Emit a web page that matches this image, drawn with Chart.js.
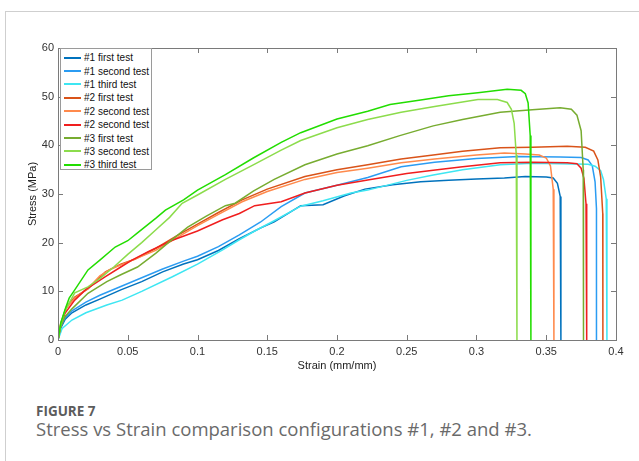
<!DOCTYPE html>
<html>
<head>
<meta charset="utf-8">
<script src="https://cdn.jsdelivr.net/npm/chart.js@4.4.1/dist/chart.umd.min.js"></script>
<style>
  html,body{margin:0;padding:0;background:#fff;}
  body{width:639px;height:461px;overflow:hidden;position:relative;font-family:"Liberation Sans",Arial,sans-serif;}
  #frame{position:absolute;left:5px;top:11px;width:700px;height:500px;border-left:1px solid #cfcfcf;border-top:1px solid #cfcfcf;}
  #c{position:absolute;left:0;top:0;}
  #lg{position:absolute;left:60px;top:48px;width:92px;height:122px;border:1px solid #9a9a9a;background:#fff;box-sizing:border-box;padding-top:2px;}
  #lg .row{height:13.4px;display:flex;align-items:center;font-size:10px;color:#111;white-space:nowrap;}
  #lg .sw{width:17px;height:2px;margin:0 3px 0 3px;}
  #fig{position:absolute;left:36px;top:402px;font-family:"Open Sans",sans-serif;font-weight:700;font-size:13.5px;color:#5c5c5c;}
  #cap{position:absolute;left:36px;top:416px;font-family:"Open Sans",sans-serif;font-size:18.5px;color:#6a6a6a;white-space:nowrap;}
</style>
</head>
<body>
<div id="frame"></div>
<canvas id="c" width="639" height="373"></canvas>
<div id="lg"></div>
<div id="fig">FIGURE 7</div>
<div id="cap">Stress vs Strain comparison configurations #1, #2 and #3.</div>
<script>
// ── Stress/strain data ──
const X_TICKS=[0,0.05,0.1,0.15,0.2,0.25,0.3,0.35,0.4];
const Y_TICKS=[0,10,20,30,40,50,60];

const T1A_X=[0,0.002,0.005,0.01,0.02,0.03,0.045,0.06,0.075,0.09,0.1,0.115,0.13,0.145,0.155,0.165,0.174,0.19,0.205,0.22,0.24,0.26,0.28,0.30,0.32,0.335,0.35,0.355,0.358,0.36,0.3605,0.3605];
const T1A_Y=[0,2.5,4.2,5.6,7.2,8.4,10.3,12.0,14.0,15.6,16.5,18.4,20.8,23.0,24.3,26.0,27.6,27.8,29.6,31.0,31.9,32.5,32.8,33.1,33.3,33.6,33.5,33.3,32.2,29.5,24,0];

const T1B_X=[0,0.002,0.005,0.01,0.02,0.03,0.045,0.06,0.075,0.09,0.1,0.115,0.13,0.145,0.16,0.177,0.2,0.222,0.246,0.27,0.3,0.33,0.36,0.375,0.38,0.383,0.385,0.386,0.386];
const T1B_Y=[0,2.8,4.6,6.0,7.8,9.2,11.0,12.8,14.6,16.2,17.2,19.2,21.6,24.2,27.4,30.2,31.8,33.4,35.6,36.5,37.3,37.7,37.6,37.5,37.0,35.8,32.5,27,0];

const T1C_X=[0,0.003,0.01,0.02,0.035,0.046,0.06,0.082,0.1,0.118,0.13,0.141,0.155,0.174,0.19,0.21,0.222,0.25,0.269,0.29,0.317,0.34,0.36,0.38,0.385,0.389,0.391,0.393,0.3935,0.3935];
const T1C_Y=[0,2.4,4.1,5.6,7.2,8.2,10.0,13.0,15.6,18.5,20.6,22.4,24.5,27.5,28.6,30.2,30.8,32.8,33.9,35.0,36.0,36.3,36.2,36.1,35.7,34.8,33.0,29,24,0];

const T2A_X=[0,0.002,0.006,0.012,0.0215,0.034,0.045,0.055,0.07,0.085,0.1,0.115,0.132,0.15,0.177,0.2,0.222,0.246,0.269,0.29,0.317,0.34,0.365,0.378,0.384,0.387,0.389,0.3905,0.3906];
const T2A_Y=[0,3.5,6.8,8.8,10.5,14.0,15.6,16.6,18.8,21.4,23.8,26.2,28.8,31.0,33.6,35.0,36.0,37.2,38.0,38.8,39.5,39.6,39.8,39.6,38.8,37.0,33.5,26,0];

const T2B_X=[0,0.002,0.006,0.012,0.0215,0.03,0.038,0.05,0.07,0.085,0.1,0.115,0.132,0.15,0.177,0.2,0.222,0.246,0.27,0.3,0.32,0.335,0.345,0.35,0.353,0.355,0.3555];
const T2B_Y=[0,3.2,6.5,8.6,10.6,13.2,14.6,16.0,18.4,21.0,23.5,25.8,28.4,30.5,33.0,34.4,35.3,36.4,37.2,38.0,38.4,38.2,38.0,37.4,35.8,31,0];

const T2C_X=[0,0.002,0.005,0.012,0.02,0.034,0.045,0.053,0.065,0.082,0.1,0.118,0.13,0.141,0.16,0.177,0.2,0.222,0.25,0.269,0.29,0.317,0.34,0.365,0.372,0.375,0.377,0.3785,0.379];
const T2C_Y=[0,3.0,5.5,8.2,10.4,13.0,15.0,16.4,18.2,20.5,22.4,24.7,26.0,27.6,28.4,30.2,31.8,32.9,34.2,34.9,35.6,36.4,36.5,36.4,36.2,35.3,33.2,28,0];

const T3A_X=[0,0.002,0.005,0.01,0.0215,0.035,0.045,0.057,0.07,0.08,0.093,0.106,0.12,0.127,0.14,0.155,0.177,0.2,0.222,0.245,0.269,0.29,0.317,0.34,0.36,0.368,0.372,0.375,0.3765,0.3767];
const T3A_Y=[0,2.8,4.8,6.4,9.6,12.0,13.4,15.0,17.8,20.2,23.2,25.4,27.6,28.1,30.6,33.0,36.0,38.2,39.9,42.0,44.0,45.3,46.8,47.3,47.7,47.4,46.2,43,35,0];

const T3B_X=[0,0.002,0.005,0.012,0.0215,0.03,0.04,0.05,0.06,0.07,0.08,0.089,0.1,0.12,0.14,0.16,0.174,0.2,0.222,0.246,0.27,0.301,0.315,0.322,0.325,0.327,0.3285,0.329];
const T3B_Y=[0,3.2,6.0,9.7,10.9,12.6,15.0,17.6,20.0,22.6,25.2,28.1,29.8,33.0,36.0,39.0,41.0,43.6,45.3,46.8,48.0,49.4,49.4,48.8,47.4,44.5,38,0];

const T3C_X=[0,0.002,0.005,0.008,0.012,0.0215,0.03,0.041,0.05,0.057,0.07,0.077,0.09,0.1,0.12,0.14,0.16,0.174,0.2,0.222,0.238,0.26,0.28,0.301,0.322,0.332,0.335,0.337,0.3385,0.339];
const T3C_Y=[0,3.5,6.2,8.6,10.3,14.4,16.4,19.1,20.4,22.0,25.0,26.7,28.8,30.8,34.0,37.4,40.6,42.6,45.4,47.0,48.4,49.3,50.2,50.8,51.5,51.3,50.6,48.7,42,0];

const SERIES=[
  {l:'#1 first test',  x:T1A_X,y:T1A_Y,c:'#0072bd'},
  {l:'#1 second test', x:T1B_X,y:T1B_Y,c:'#2b9cf2'},
  {l:'#1 third test',  x:T1C_X,y:T1C_Y,c:'#3ee6f2'},
  {l:'#2 first test',  x:T2A_X,y:T2A_Y,c:'#d95319'},
  {l:'#2 second test', x:T2B_X,y:T2B_Y,c:'#ff8a4c'},
  {l:'#2 second test', x:T2C_X,y:T2C_Y,c:'#f01e1e'},
  {l:'#3 first test',  x:T3A_X,y:T3A_Y,c:'#77ac30'},
  {l:'#3 second test', x:T3B_X,y:T3B_Y,c:'#8cdc4c'},
  {l:'#3 third test',  x:T3C_X,y:T3C_Y,c:'#22dd00'},
];

// ── Legend (html, built from the series list) ──
document.getElementById('lg').innerHTML=SERIES.map(s=>`<div class="row"><span class="sw" style="background:${s.c}"></span>${s.l}</div>`).join('');

// ── inward ticks + box, matlab style ──
const boxTicks={id:'boxTicks',afterDraw(ch){
  const {ctx,chartArea:a,scales:{x,y}}=ch;
  ctx.save();
  ctx.strokeStyle='#7a7a7a';ctx.lineWidth=1;
  ctx.strokeRect(a.left+0.5,a.top+0.5,a.right-a.left,a.bottom-a.top);
  ctx.beginPath();
  X_TICKS.forEach(v=>{const p=Math.round(x.getPixelForValue(v))+0.5;ctx.moveTo(p,a.bottom);ctx.lineTo(p,a.bottom-5);ctx.moveTo(p,a.top);ctx.lineTo(p,a.top+5);});
  Y_TICKS.forEach(v=>{const p=Math.round(y.getPixelForValue(v))+0.5;ctx.moveTo(a.left,p);ctx.lineTo(a.left+5,p);ctx.moveTo(a.right,p);ctx.lineTo(a.right-5,p);});
  ctx.stroke();
  ctx.restore();
}};

const tickFont={family:'"Liberation Sans", Arial, sans-serif',size:11};
new Chart(document.getElementById('c'),{
  type:'scatter',
  data:{datasets:SERIES.map((s,i)=>({
    label:s.l,
    data:s.x.map((v,k)=>({x:v,y:s.y[k]})),
    showLine:true,borderColor:s.c,backgroundColor:s.c,borderWidth:1.5,pointRadius:0,tension:0,
    order:SERIES.length-i
  }))},
  options:{
    responsive:false,animation:false,devicePixelRatio:1,
    layout:{padding:{left:0,top:48,right:23,bottom:0}},
    plugins:{legend:{display:false},tooltip:{enabled:false}},
    scales:{
      x:{type:'linear',min:0,max:0.4,
        afterFit:s=>{s.height=33;},
        afterBuildTicks:s=>{s.ticks=X_TICKS.map(v=>({value:v}));},
        grid:{display:false,drawTicks:false},border:{display:false},
        ticks:{color:'#333',font:tickFont,padding:5,maxRotation:0,callback:v=>String(+v.toFixed(2))},
        title:{display:true,text:'Strain (mm/mm)',color:'#222',font:tickFont,padding:0}},
      y:{type:'linear',min:0,max:60,
        afterFit:s=>{s.width=58;},
        afterBuildTicks:s=>{s.ticks=Y_TICKS.map(v=>({value:v}));},
        grid:{display:false,drawTicks:false},border:{display:false},
        ticks:{color:'#333',font:tickFont,padding:4},
        title:{display:true,text:'Stress (MPa)',color:'#222',font:tickFont,padding:{top:26,bottom:0}}}
    }
  },
  plugins:[boxTicks]
});
</script>
</body>
</html>
